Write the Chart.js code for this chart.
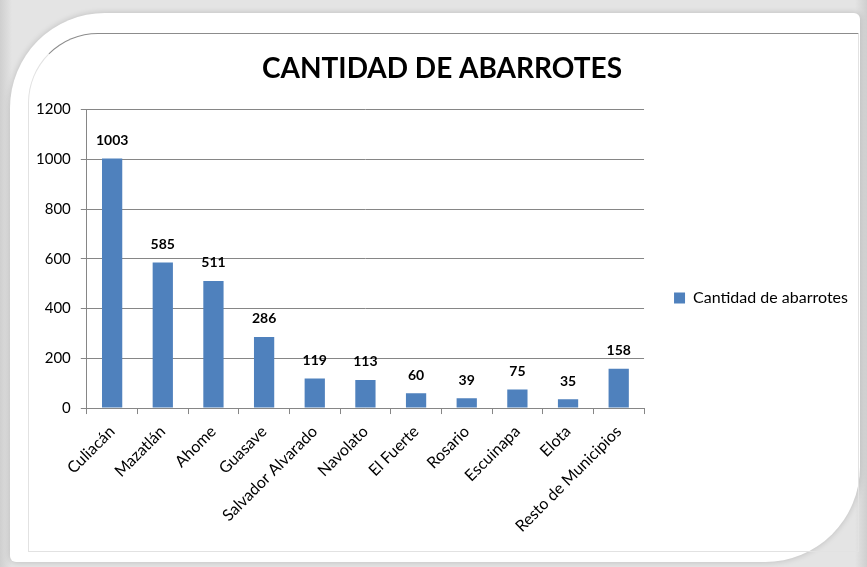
<!DOCTYPE html>
<html>
<head>
<meta charset="utf-8">
<script src="https://cdn.jsdelivr.net/npm/chart.js@4.4.1/dist/chart.umd.min.js"></script>
<style>
  html, body { margin: 0; padding: 0; }
  body {
    width: 867px; height: 567px; overflow: hidden; position: relative;
    background: linear-gradient(90deg, #cfcfcf 0px, #e4e4e4 12px, #e4e4e4 855px, #cfcfcf 867px);
  }
  /* marco blanco con esquinas redondeadas */
  .marco {
    position: absolute; left: 10px; top: 13px; width: 850px; height: 549px;
    background: #fff;
    border-radius: 95px 6px 95px 6px;
    box-shadow: 0 0 6px rgba(0,0,0,0.18);
  }
  .borde {
    position: absolute; left: 28px; top: 33px; width: 829px; height: 517px;
    border: 1px solid #e2e2e2; border-top-color: #8c8c8c;
    border-radius: 70px 0 0 0;
  }
  .grafica { position: absolute; left: 0; top: 0; width: 867px; height: 567px; }
</style>
</head>
<body>
<div class="marco"></div>
<div class="borde"></div>
<div class="grafica"><canvas id="abarrotes"></canvas></div>
<script>
// Municipios y cantidad de abarrotes
const municipios = ["Culiacán", "Mazatlán", "Ahome", "Guasave", "Salvador Alvarado",
    "Navolato", "El Fuerte", "Rosario", "Escuinapa", "Elota", "Resto de Municipios"];
const cantidades = [1003, 585, 511, 286, 119, 113, 60, 39, 75, 35, 158];
const ticksY = [0, 200, 400, 600, 800, 1000, 1200];

const fuente = "Lato, 'Open Sans', sans-serif";

// etiquetas de valor encima de cada barra
const etiquetasValor = {
    id: "etiquetasValor",
    afterDatasetsDraw(chart) {
        const ctx = chart.ctx;
        const meta = chart.getDatasetMeta(0);
        ctx.save();
        ctx.font = "bold 14px " + fuente;
        ctx.fillStyle = "#000";
        ctx.textAlign = "center";
        ctx.textBaseline = "bottom";
        meta.data.forEach((bar, i) => {
            ctx.fillText(String(chart.data.datasets[0].data[i]), bar.x, bar.y - 11);
        });
        ctx.restore();
    }
};

const ctx = document.getElementById("abarrotes").getContext("2d");
new Chart(ctx, {
    type: "bar",
    data: {
        labels: municipios,
        datasets: [{
            label: "Cantidad de abarrotes",
            data: cantidades,
            backgroundColor: "#4f81bd",
            borderWidth: 0,
            barPercentage: 0.4,
            categoryPercentage: 1.0
        }]
    },
    options: {
        responsive: true,
        maintainAspectRatio: false,
        animation: false,
        layout: { padding: { left: 26, top: 52, right: 9, bottom: 23 } },
        plugins: {
            title: {
                display: true,
                text: "CANTIDAD DE ABARROTES",
                color: "#000",
                font: { family: fuente, size: 28, weight: "bold" },
                padding: { top: 0, bottom: 24 }
            },
            legend: {
                position: "right",
                maxWidth: 260,
                labels: {
                    color: "#000",
                    font: { family: fuente, size: 16 },
                    boxWidth: 11,
                    boxHeight: 11,
                    padding: 30
                }
            },
            tooltip: { enabled: false }
        },
        scales: {
            x: {
                grid: {
                    display: true,
                    drawOnChartArea: false,
                    offset: true,
                    color: "#868686",
                    tickLength: 6
                },
                border: { color: "#868686" },
                ticks: {
                    color: "#000",
                    font: { family: fuente, size: 16 },
                    minRotation: 45,
                    maxRotation: 45,
                    autoSkip: false,
                    padding: 8
                }
            },
            y: {
                min: 0,
                max: 1200,
                afterBuildTicks(axis) {
                    axis.ticks = ticksY.map(v => ({ value: v }));
                },
                grid: { color: "#868686", tickLength: 6 },
                border: { color: "#868686" },
                ticks: {
                    color: "#000",
                    font: { family: fuente, size: 15 },
                    padding: 10,
                    callback: v => String(v)
                }
            }
        }
    },
    plugins: [etiquetasValor]
});
</script>
</body>
</html>
